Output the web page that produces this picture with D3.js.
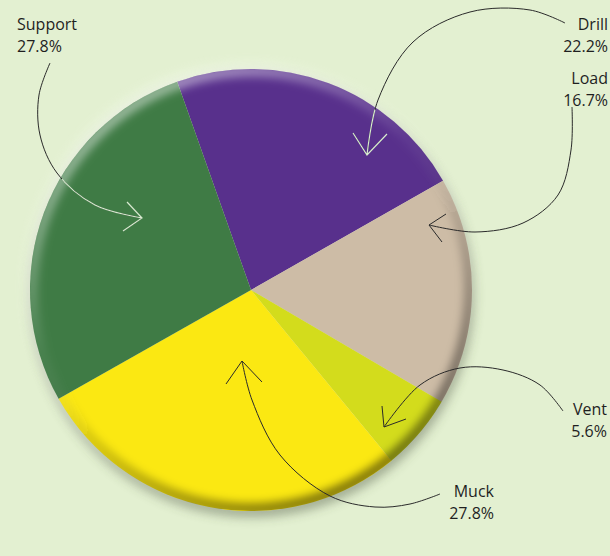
<!DOCTYPE html>
<html>
<head>
<meta charset="utf-8">
<script src="https://cdn.jsdelivr.net/npm/d3@7"></script>
<style>
  body { margin: 0; background: #e3f0d1; }
  text { font-family: "Open Sans", "Noto Sans", sans-serif; fill: #1f1f1f; font-weight: 500; }
</style>
</head>
<body>
<div id="chart"></div>
<script>
var labels = ["Drill", "Load", "Vent", "Muck", "Support"];
var values = [22.2, 16.7, 5.6, 27.8, 27.8];
var colors = ["#58308c", "#cdbca6", "#d3dc1c", "#fbe812", "#3f7b45"];

var W = 610, H = 556;
var cx = 251, cy = 290, R = 221;
var startDeg = -19.5;

var svg = d3.select("#chart").append("svg").attr("width", W).attr("height", H);
var defs = svg.append("defs");

var f = defs.append("filter").attr("id", "shadow").attr("x", "-20%").attr("y", "-20%").attr("width", "140%").attr("height", "140%");
f.append("feGaussianBlur").attr("stdDeviation", 6);

var f2 = defs.append("filter").attr("id", "soft").attr("x", "-10%").attr("y", "-10%").attr("width", "120%").attr("height", "120%");
f2.append("feGaussianBlur").attr("stdDeviation", 4);

// rim light top-left, dark bottom-right
var rimG = defs.append("linearGradient").attr("id", "rimG")
    .attr("x1", "0.2").attr("y1", "0").attr("x2", "0.8").attr("y2", "1");
rimG.append("stop").attr("offset", "0").attr("stop-color", "#ffffff").attr("stop-opacity", 0.55);
rimG.append("stop").attr("offset", "0.4").attr("stop-color", "#ffffff").attr("stop-opacity", 0.05);
rimG.append("stop").attr("offset", "0.6").attr("stop-color", "#000000").attr("stop-opacity", 0.15);
rimG.append("stop").attr("offset", "1").attr("stop-color", "#000000").attr("stop-opacity", 0.55);

defs.append("clipPath").attr("id", "pieClip")
  .append("circle").attr("cx", cx).attr("cy", cy).attr("r", R);
defs.append("clipPath").attr("id", "innerClip")
  .append("circle").attr("cx", cx).attr("cy", cy).attr("r", R - 2);

// outer shadow, darker toward the bottom
svg.append("circle").attr("cx", cx + 1).attr("cy", cy + 5).attr("r", R)
  .attr("fill", "#3c4630").attr("opacity", 0.5).attr("filter", "url(#shadow)");
svg.append("circle").attr("cx", cx - 3).attr("cy", cy - 4).attr("r", R)
  .attr("fill", "#f8fcf2").attr("opacity", 0.7).attr("filter", "url(#shadow)");

var data = labels.map(function (d, i) { return {label: d, value: values[i], color: colors[i]}; });

var pie = d3.pie().sort(null).value(function (d) { return d.value; })
  .startAngle(startDeg * Math.PI / 180)
  .endAngle(startDeg * Math.PI / 180 + 2 * Math.PI);
var arc = d3.arc().innerRadius(0).outerRadius(R);

var g = svg.append("g").attr("transform", "translate(" + cx + "," + cy + ")");
g.selectAll("path").data(pie(data)).enter().append("path")
  .attr("d", arc)
  .attr("fill", function (d) { return d.data.color; });

svg.append("g").attr("clip-path", "url(#pieClip)")
  .append("circle").attr("cx", cx).attr("cy", cy).attr("r", R - 2)
  .attr("fill", "none").attr("stroke", "url(#rimG)").attr("stroke-width", 12)
  .attr("filter", "url(#soft)");

// annotation arrows (curve points, arrow tip, arrow arms)
var arrows = [
  {pts: [[50, 63], [39, 95], [40, 135], [57, 173], [95, 205], [142, 218]], arms: [[127, 202], [123, 231]], light: true},
  {pts: [[565, 23], [530, 10], [470, 12], [413, 42], [378, 100], [367, 155]], arms: [[353, 133], [387, 134]], light: true},
  {pts: [[572, 107], [571, 150], [558, 195], [523, 223], [475, 232], [429, 225]], arms: [[446, 214], [442, 242]], light: false},
  {pts: [[563, 411], [540, 385], [503, 370], [460, 368], [420, 385], [384, 427]], arms: [[382, 406], [406, 419]], light: false},
  {pts: [[440, 494], [410, 504], [375, 507], [330, 496], [280, 455], [252, 400], [242, 361]], arms: [[226, 384], [262, 382]], light: false}
];

var line = d3.line().curve(d3.curveCatmullRom.alpha(0.5));
function arrowPath(a) {
  var tip = a.pts[a.pts.length - 1];
  return line(a.pts) + "M" + a.arms[0] + "L" + tip + "L" + a.arms[1];
}

var ann = svg.append("g");
ann.selectAll("path.dark").data(arrows).enter().append("path")
  .attr("class", "dark")
  .attr("d", arrowPath)
  .attr("fill", "none").attr("stroke", "#2a2a2a").attr("stroke-width", 1);
ann.append("g").attr("clip-path", "url(#innerClip)")
  .selectAll("path").data(arrows.filter(function (a) { return a.light; })).enter().append("path")
  .attr("d", arrowPath)
  .attr("fill", "none").attr("stroke", "#d8ecd0").attr("stroke-width", 1.2);

// labels
var pct = values.map(function (v) { return v.toFixed(1) + "%"; });
var labelPos = [
  {x: 608, y: 30, anchor: "end"},
  {x: 608, y: 84, anchor: "end"},
  {x: 607, y: 415, anchor: "end"},
  {x: 494, y: 497, anchor: "end"},
  {x: 17, y: 30, anchor: "start"}
];
labelPos.forEach(function (p, i) {
  var t = svg.append("text").attr("x", p.x).attr("y", p.y)
    .attr("text-anchor", p.anchor).attr("font-size", 16);
  t.append("tspan").attr("x", p.x).text(labels[i]);
  t.append("tspan").attr("x", p.x).attr("dy", 22).text(pct[i]);
});
</script>
</body>
</html>
